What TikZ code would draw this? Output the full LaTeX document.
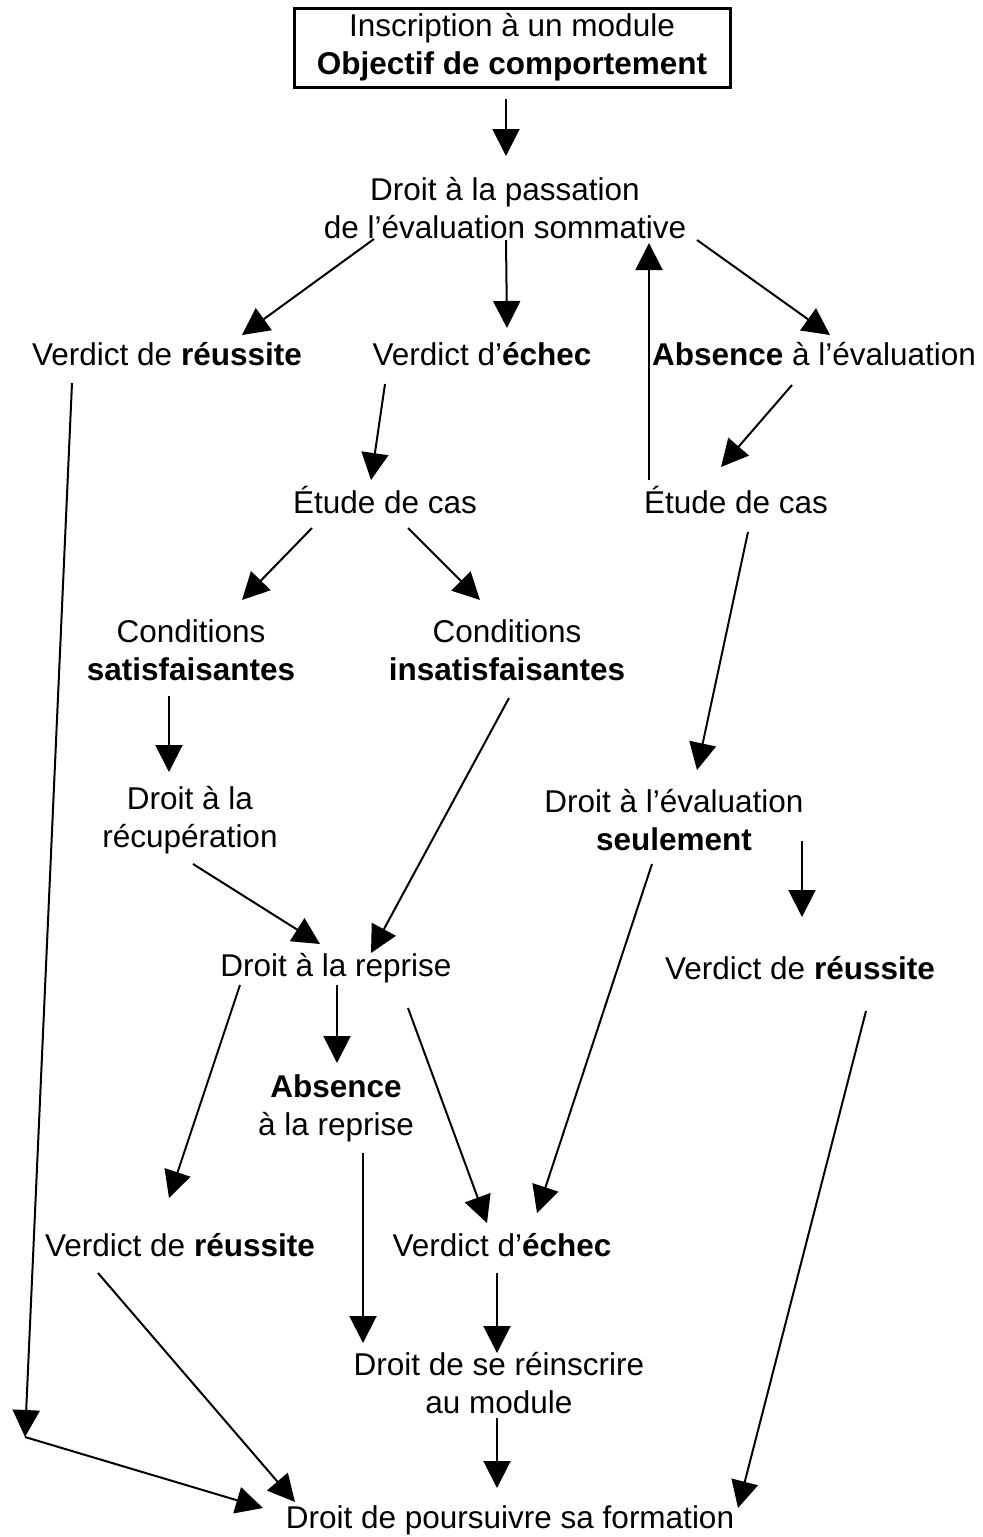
\documentclass[tikz,border=0pt]{standalone}
\usepackage{fontspec}
\setmainfont{Liberation Sans}
\usetikzlibrary{arrows.meta, calc}
\newcommand{\diagfont}{\fontsize{15.75}{19}\selectfont}
\tikzset{
  every picture/.style={line width=1pt},
  lbl/.style={align=center, inner sep=0pt, font=\diagfont},
  framed/.style={lbl, draw, line width=1.5pt, minimum width=218pt, minimum height=39.5pt},
  arrow/.style={-{Triangle[length=13.5pt, width=13.5pt]}},
}
\begin{document}
\begin{tikzpicture}[x=0.5pt, y=-0.5pt]
  \useasboundingbox (0,0) rectangle (983,1537);
  % ---------- nodes
  \node[framed] (insc) at (512,47.5) {Inscription à un module\\\textbf{Objectif de comportement}};
  \node[lbl] (pass) at (505,208) {Droit à la passation\\de l’évaluation sommative};
  \node[lbl] (vr1) at (167,354) {Verdict de \textbf{réussite}};
  \node[lbl] (ve1) at (482,354) {Verdict d’\textbf{échec}};
  \node[lbl] (abs1) at (814,354) {\textbf{Absence} à l’évaluation};
  \node[lbl] (et1) at (385,500) {Étude de cas};
  \node[lbl] (et2) at (736,500) {Étude de cas};
  \node[lbl] (csat) at (191,650) {Conditions\\\textbf{satisfaisantes}};
  \node[lbl] (cins) at (507,650) {Conditions\\\textbf{insatisfaisantes}};
  \node[lbl] (recup) at (190,820) {Droit à la\\récupération};
  \node[lbl] (evals) at (674,820) {Droit à l’évaluation\\\textbf{seulement}};
  \node[lbl] (rep) at (336,968) {Droit à la reprise};
  \node[lbl] (vr2) at (800,968) {Verdict de \textbf{réussite}};
  \node[lbl] (absrep) at (336,1108) {\textbf{Absence}\\à la reprise};
  \node[lbl] (vr3) at (180,1245) {Verdict de \textbf{réussite}};
  \node[lbl] (ve2) at (502,1245) {Verdict d’\textbf{échec}};
  \node[lbl] (reins) at (499,1383) {Droit de se réinscrire\\au module};
  \node[lbl] (pours) at (510,1520) {Droit de poursuivre sa formation};
  \coordinate (corner) at (25,1437);
  % ---------- arrows
  \draw[arrow] ($(insc)+(-6,51.5)$) -- ($(pass)+(1,-52)$);
  \draw[arrow] ($(pass)+(-131,31)$) -- ($(vr1)+(75,-19)$);
  \draw[arrow] ($(pass)+(1,32)$) -- ($(ve1)+(25,-26)$);
  \draw[arrow] ($(pass)+(192,32)$) -- ($(abs1)+(16,-19)$);
  \draw[arrow] ($(et2)+(-87,-20)$) -- ($(pass)+(144,35)$);
  \draw[arrow] ($(abs1)+(-22,31)$) -- ($(et2)+(-15,-33)$);
  \draw[arrow] ($(ve1)+(-97,30)$) -- ($(et1)+(-14,-20)$);
  \draw[arrow] ($(vr1)+(-95,29)$) -- (corner);
  \draw[arrow] (corner) -- ($(pours)+(-247,-12)$);
  \draw[arrow] ($(et1)+(-73,28)$) -- ($(csat)+(51,-50)$);
  \draw[arrow] ($(et1)+(23,28)$) -- ($(cins)+(-27,-50)$);
  \draw[arrow] ($(et2)+(12,32)$) -- ($(evals)+(23,-50)$);
  \draw[arrow] ($(csat)+(-22,46)$) -- ($(recup)+(-21,-48)$);
  \draw[arrow] ($(cins)+(2,48)$) -- ($(rep)+(35,-15)$);
  \draw[arrow] ($(recup)+(3,44)$) -- ($(rep)+(-16,-24)$);
  \draw[arrow] ($(evals)+(-22,44)$) -- ($(ve2)+(35,-32)$);
  \draw[arrow] ($(evals)+(128,21)$) -- ($(vr2)+(2,-51)$);
  \draw[arrow] ($(rep)+(-96,17)$) -- ($(vr3)+(-11,-47)$);
  \draw[arrow] ($(rep)+(1,17)$) -- ($(absrep)+(1,-45)$);
  \draw[arrow] ($(rep)+(72,40)$) -- ($(ve2)+(-15,-22)$);
  \draw[arrow] ($(vr2)+(66,43)$) -- ($(pours)+(228,-12)$);
  \draw[arrow] ($(absrep)+(27,45)$) -- ($(reins)+(-136,-40)$);
  \draw[arrow] ($(vr3)+(-82,28)$) -- ($(pours)+(-215,-18)$);
  \draw[arrow] ($(ve2)+(-5,28)$) -- ($(reins)+(-2,-30)$);
  \draw[arrow] ($(reins)+(-2,35)$) -- ($(pours)+(-13,-32)$);
\end{tikzpicture}
\end{document}
